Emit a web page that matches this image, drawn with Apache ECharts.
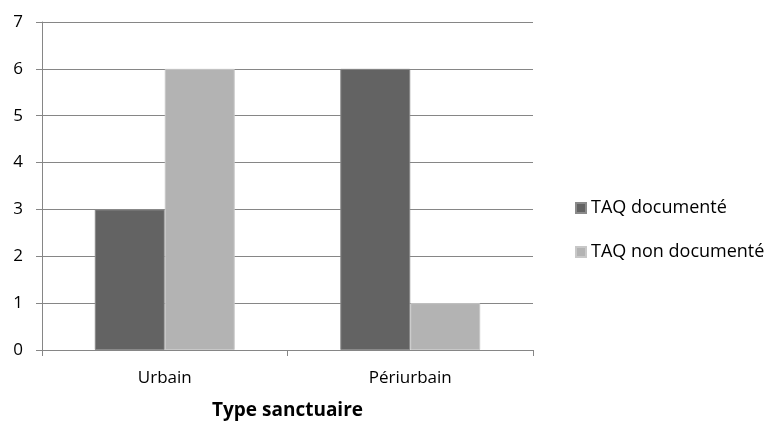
<!DOCTYPE html>
<html><head><meta charset="utf-8">
<script src="https://cdn.jsdelivr.net/npm/echarts@6/dist/echarts.min.js"></script>
<style>html,body{margin:0;padding:0;background:#fff}#c{width:772px;height:423px}</style>
</head><body><div id="c"></div>
<script>
const categories = ['Urbain', 'Périurbain'];
const documented = [3, 6];
const undocumented = [6, 1];
const seriesNames = ['TAQ documenté', 'TAQ non documenté'];
const FONT = '"Open Sans", "Liberation Sans", sans-serif';
const chart = echarts.init(document.getElementById('c'));
chart.setOption({
  animation: false,
  textStyle: { fontFamily: FONT },
  grid: { left: 42, right: 239, top: 22, bottom: 73, containLabel: false, outerBoundsMode: 'none' },
  legend: {
    orient: 'vertical', left: 575, top: 199, itemGap: 26,
    itemWidth: 10, itemHeight: 10, icon: 'rect', padding: 0,
    textStyle: { fontFamily: FONT, fontSize: 18, color: '#000' },
    data: seriesNames
  },
  xAxis: {
    type: 'category', data: categories,
    name: 'Type sanctuaire', nameLocation: 'middle', nameGap: 51,
    nameTextStyle: { fontFamily: FONT, fontSize: 19, fontWeight: 'bold', color: '#000' },
    axisLine: { lineStyle: { color: '#868686', width: 1 } },
    axisTick: { show: true, alignWithLabel: false, length: 6, lineStyle: { color: '#868686' } },
    axisLabel: { fontFamily: FONT, fontSize: 17, color: '#000', margin: 20 }
  },
  yAxis: {
    type: 'value', min: 0, max: 7, interval: 1,
    axisLine: { show: true, lineStyle: { color: '#868686', width: 1 } },
    axisTick: { show: true, inside: false, length: 6, lineStyle: { color: '#868686' } },
    splitLine: { lineStyle: { color: '#868686', width: 1 } },
    axisLabel: { fontFamily: FONT, fontSize: 17, color: '#000', margin: 19 }
  },
  series: [
    { name: seriesNames[0], type: 'bar', data: documented, barGap: '0%', barCategoryGap: '43%',
      itemStyle: { color: '#636363', borderColor: '#8a8a8a', borderWidth: 1 } },
    { name: seriesNames[1], type: 'bar', data: undocumented,
      itemStyle: { color: '#b3b3b3', borderColor: '#c8c8c8', borderWidth: 1 } }
  ]
});
</script></body></html>
